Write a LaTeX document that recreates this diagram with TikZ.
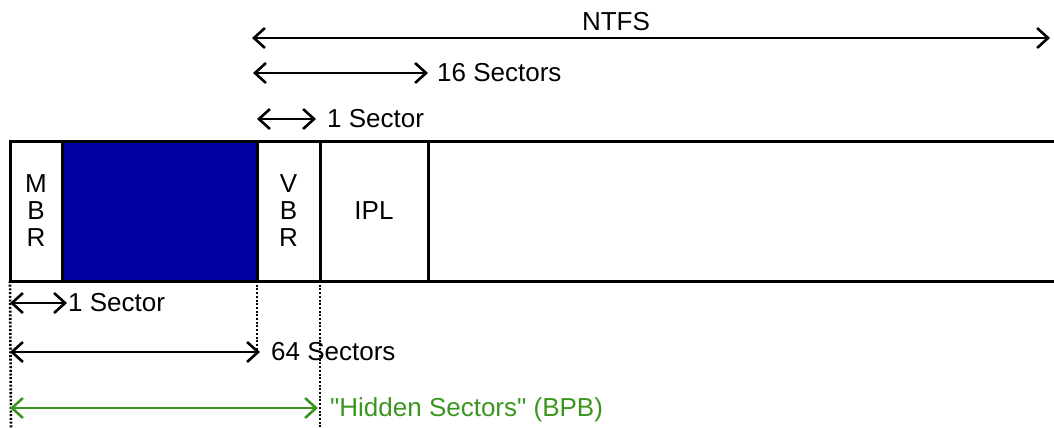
\documentclass[tikz,border=0pt]{standalone}
\usepackage{fontspec}
\setmainfont{Liberation Sans}
\newfontfamily\plainfont{Liberation Sans}
\usetikzlibrary{arrows.meta}
\definecolor{blockblue}{RGB}{0,0,160}
\definecolor{hidgreen}{RGB}{58,150,30}
\begin{document}
\begin{tikzpicture}[x=1pt,y=-1pt,
  cell/.style={draw=black, line width=3pt, anchor=north west, minimum height=140pt, inner sep=0pt, outer sep=0pt, align=center, font=\fontsize{26}{27}\selectfont},
  dim/.style={line width=2.6pt, {Straight Barb[length=11pt,width=20pt,line width=2.6pt]}-{Straight Barb[length=11pt,width=20pt,line width=2.6pt]}},
  lbl/.style={inner sep=0pt, anchor=west, font=\fontsize{26}{27}\selectfont},
  guide/.style={line width=2.6pt, dash pattern=on 2pt off 1.7pt}]
\useasboundingbox (0,0) rectangle (1054,428);
% bar cells
\node[cell, minimum width=52pt] (mbr) at (10,141) {M\\B\\R};
\node[cell, minimum width=195pt, fill=blockblue] (blk) at (62,141) {};
\node[cell, minimum width=63pt] (vbr) at (257,141) {V\\B\\R};
\node[cell, minimum width=108pt] (ipl) at (320,141) {IPL};
\coordinate (endT) at (1054,141);
\coordinate (endB) at (1054,281);
\draw[line width=3pt] (ipl.north east) -- (endT);
\draw[line width=3pt] (ipl.south east) -- (endB);
% dotted guides
\coordinate (g1) at (11,428);
\coordinate (g2) at (257,350);
\coordinate (g3) at (320,428);
\draw[guide] (mbr.south west) -- (g1);
\draw[guide] (blk.south east) -- (g2);
\draw[guide] (vbr.south east) -- (g3);
% top dimension arrows
\coordinate (ntfsL) at (252,38); \coordinate (ntfsR) at (1050,38);
\coordinate (s16L) at (253,73); \coordinate (s16R) at (428,73);
\coordinate (s1L) at (257,119); \coordinate (s1R) at (316,119);
\draw[dim] (ntfsL) -- (ntfsR);
\draw[dim] (s16L) -- (s16R);
\draw[dim] (s1L) -- (s1R);
\node[inner sep=0pt, font=\fontsize{26}{27}\selectfont] (ntfs) at (616,22) {NTFS};
\node[lbl] (l16) at (437,73) {16 Sectors};
\node[lbl] (l1t) at (327,119) {1 Sector};
% bottom dimension arrows
\coordinate (b1L) at (10,303); \coordinate (b1R) at (67,303);
\coordinate (s64L) at (10,352); \coordinate (s64R) at (260,352);
\coordinate (hidL) at (10,408); \coordinate (hidR) at (318,408);
\draw[dim] (b1L) -- (b1R);
\draw[dim] (s64L) -- (s64R);
\draw[dim, draw=hidgreen] (hidL) -- (hidR);
\node[lbl] (l1b) at (68,303) {1 Sector};
\node[lbl] (l64) at (271,352) {64 Sectors};
\node[lbl, text=hidgreen, font=\plainfont\fontsize{26}{27}\selectfont] (lhid) at (330,410) {"Hidden Sectors" (BPB)};
\end{tikzpicture}
\end{document}
